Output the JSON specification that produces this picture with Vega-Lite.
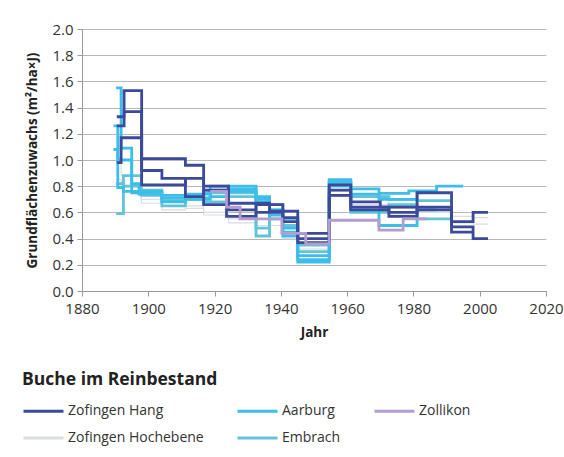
{
  "$schema": "https://vega.github.io/schema/vega-lite/v6.json",
  "width": 464,
  "height": 262,
  "autosize": {"type": "none"},
  "padding": {"left": 82, "top": 29, "right": 18, "bottom": 166},
  "background": "white",
  "config": {
    "font": "Open Sans",
    "view": {"stroke": null},
    "axis": {
      "labelFont": "Open Sans", "labelFontSize": 15, "labelColor": "#333333",
      "titleFont": "Open Sans", "titleFontSize": 13.5, "titleFontWeight": "bold", "titleColor": "#222222",
      "domainColor": "#9a9a9a", "tickColor": "#9a9a9a", "tickSize": 5, "gridColor": "#b8b8b8", "gridWidth": 1
    },
    "legend": {
      "labelFont": "Open Sans", "labelFontSize": 14, "labelColor": "#333333",
      "titleFont": "Open Sans", "titleFontSize": 17.5, "titleFontWeight": "bold", "titleColor": "#222222"
    }
  },
  "data": {"values": [
    {"s":"Zofingen Hochebene","p":"HO1","x":1890.5,"y":1.02},{"s":"Zofingen Hochebene","p":"HO1","x":1891.8,"y":0.88},{"s":"Zofingen Hochebene","p":"HO1","x":1897.9,"y":0.70},{"s":"Zofingen Hochebene","p":"HO1","x":1904.1,"y":0.68},{"s":"Zofingen Hochebene","p":"HO1","x":1911.2,"y":0.65},{"s":"Zofingen Hochebene","p":"HO1","x":1916.7,"y":0.60},{"s":"Zofingen Hochebene","p":"HO1","x":1924.2,"y":0.52},{"s":"Zofingen Hochebene","p":"HO1","x":1932.5,"y":0.55},{"s":"Zofingen Hochebene","p":"HO1","x":1940.6,"y":0.44},{"s":"Zofingen Hochebene","p":"HO1","x":1945.1,"y":0.27},{"s":"Zofingen Hochebene","p":"HO1","x":1954.6,"y":0.72},{"s":"Zofingen Hochebene","p":"HO1","x":1961.1,"y":0.73},{"s":"Zofingen Hochebene","p":"HO1","x":1972.6,"y":0.63},{"s":"Zofingen Hochebene","p":"HO1","x":1981.1,"y":0.60},{"s":"Zofingen Hochebene","p":"HO1","x":1991.5,"y":0.57},{"s":"Zofingen Hochebene","p":"HO1","x":1998,"y":0.56},{"s":"Zofingen Hochebene","p":"HO1","x":2002.5,"y":0.56},
    {"s":"Zofingen Hochebene","p":"HO2","x":1890.5,"y":0.85},{"s":"Zofingen Hochebene","p":"HO2","x":1891.8,"y":0.80},{"s":"Zofingen Hochebene","p":"HO2","x":1897.9,"y":0.67},{"s":"Zofingen Hochebene","p":"HO2","x":1904.1,"y":0.62},{"s":"Zofingen Hochebene","p":"HO2","x":1911.2,"y":0.63},{"s":"Zofingen Hochebene","p":"HO2","x":1916.7,"y":0.58},{"s":"Zofingen Hochebene","p":"HO2","x":1924.2,"y":0.55},{"s":"Zofingen Hochebene","p":"HO2","x":1932.5,"y":0.50},{"s":"Zofingen Hochebene","p":"HO2","x":1940.6,"y":0.40},{"s":"Zofingen Hochebene","p":"HO2","x":1945.1,"y":0.32},{"s":"Zofingen Hochebene","p":"HO2","x":1954.6,"y":0.76},{"s":"Zofingen Hochebene","p":"HO2","x":1961.1,"y":0.66},{"s":"Zofingen Hochebene","p":"HO2","x":1972.6,"y":0.58},{"s":"Zofingen Hochebene","p":"HO2","x":1981.1,"y":0.64},{"s":"Zofingen Hochebene","p":"HO2","x":1991.5,"y":0.52},{"s":"Zofingen Hochebene","p":"HO2","x":1998,"y":0.51},{"s":"Zofingen Hochebene","p":"HO2","x":2002.5,"y":0.51},
    {"s":"Embrach","p":"EM1","x":1890.3,"y":0.59},{"s":"Embrach","p":"EM1","x":1892.5,"y":0.88},{"s":"Embrach","p":"EM1","x":1897.9,"y":0.77},{"s":"Embrach","p":"EM1","x":1904.1,"y":0.65},{"s":"Embrach","p":"EM1","x":1911.2,"y":0.70},{"s":"Embrach","p":"EM1","x":1916.7,"y":0.75},{"s":"Embrach","p":"EM1","x":1924.2,"y":0.72},{"s":"Embrach","p":"EM1","x":1932.5,"y":0.42},{"s":"Embrach","p":"EM1","x":1936.6,"y":0.66},{"s":"Embrach","p":"EM1","x":1940.6,"y":0.50},{"s":"Embrach","p":"EM1","x":1945.1,"y":0.30},{"s":"Embrach","p":"EM1","x":1954.6,"y":0.84},{"s":"Embrach","p":"EM1","x":1961.1,"y":0.72},{"s":"Embrach","p":"EM1","x":1972.6,"y":0.70},{"s":"Embrach","p":"EM1","x":1981.1,"y":0.69},{"s":"Embrach","p":"EM1","x":1991.5,"y":0.69},
    {"s":"Embrach","p":"EM2","x":1890.3,"y":0.82},{"s":"Embrach","p":"EM2","x":1892.5,"y":0.80},{"s":"Embrach","p":"EM2","x":1897.9,"y":0.73},{"s":"Embrach","p":"EM2","x":1904.1,"y":0.69},{"s":"Embrach","p":"EM2","x":1911.2,"y":0.73},{"s":"Embrach","p":"EM2","x":1916.7,"y":0.68},{"s":"Embrach","p":"EM2","x":1924.2,"y":0.75},{"s":"Embrach","p":"EM2","x":1932.5,"y":0.48},{"s":"Embrach","p":"EM2","x":1936.6,"y":0.62},{"s":"Embrach","p":"EM2","x":1940.6,"y":0.55},{"s":"Embrach","p":"EM2","x":1945.1,"y":0.35},{"s":"Embrach","p":"EM2","x":1954.6,"y":0.82},{"s":"Embrach","p":"EM2","x":1961.1,"y":0.60},{"s":"Embrach","p":"EM2","x":1972.6,"y":0.66},{"s":"Embrach","p":"EM2","x":1981.1,"y":0.55},{"s":"Embrach","p":"EM2","x":1991.5,"y":0.55},
    {"s":"Aarburg","p":"AA1","x":1890.3,"y":1.55},{"s":"Aarburg","p":"AA1","x":1891.8,"y":1.09},{"s":"Aarburg","p":"AA1","x":1895,"y":0.82},{"s":"Aarburg","p":"AA1","x":1897.2,"y":0.76},{"s":"Aarburg","p":"AA1","x":1904.1,"y":0.71},{"s":"Aarburg","p":"AA1","x":1911.2,"y":0.74},{"s":"Aarburg","p":"AA1","x":1918.7,"y":0.72},{"s":"Aarburg","p":"AA1","x":1924.2,"y":0.78},{"s":"Aarburg","p":"AA1","x":1932.5,"y":0.70},{"s":"Aarburg","p":"AA1","x":1936.6,"y":0.58},{"s":"Aarburg","p":"AA1","x":1940.6,"y":0.48},{"s":"Aarburg","p":"AA1","x":1945.1,"y":0.27},{"s":"Aarburg","p":"AA1","x":1954.6,"y":0.85},{"s":"Aarburg","p":"AA1","x":1961.1,"y":0.78},{"s":"Aarburg","p":"AA1","x":1969.6,"y":0.745},{"s":"Aarburg","p":"AA1","x":1978.6,"y":0.765},{"s":"Aarburg","p":"AA1","x":1987,"y":0.80},{"s":"Aarburg","p":"AA1","x":1995,"y":0.80},
    {"s":"Aarburg","p":"AA2","x":1889.5,"y":1.26},{"s":"Aarburg","p":"AA2","x":1890.8,"y":1.00},{"s":"Aarburg","p":"AA2","x":1895,"y":0.75},{"s":"Aarburg","p":"AA2","x":1904.1,"y":0.68},{"s":"Aarburg","p":"AA2","x":1911.2,"y":0.70},{"s":"Aarburg","p":"AA2","x":1918.7,"y":0.77},{"s":"Aarburg","p":"AA2","x":1924.2,"y":0.80},{"s":"Aarburg","p":"AA2","x":1932.5,"y":0.72},{"s":"Aarburg","p":"AA2","x":1936.6,"y":0.62},{"s":"Aarburg","p":"AA2","x":1940.6,"y":0.45},{"s":"Aarburg","p":"AA2","x":1945.1,"y":0.22},{"s":"Aarburg","p":"AA2","x":1954.6,"y":0.80},{"s":"Aarburg","p":"AA2","x":1961.1,"y":0.74},{"s":"Aarburg","p":"AA2","x":1969.6,"y":0.70},{"s":"Aarburg","p":"AA2","x":1981.1,"y":0.76},{"s":"Aarburg","p":"AA2","x":1987,"y":0.76},
    {"s":"Aarburg","p":"AA3","x":1889.5,"y":1.08},{"s":"Aarburg","p":"AA3","x":1890.8,"y":0.79},{"s":"Aarburg","p":"AA3","x":1892.5,"y":0.76},{"s":"Aarburg","p":"AA3","x":1897.2,"y":0.74},{"s":"Aarburg","p":"AA3","x":1904.1,"y":0.73},{"s":"Aarburg","p":"AA3","x":1911.2,"y":0.71},{"s":"Aarburg","p":"AA3","x":1918.7,"y":0.80},{"s":"Aarburg","p":"AA3","x":1924.2,"y":0.76},{"s":"Aarburg","p":"AA3","x":1932.5,"y":0.68},{"s":"Aarburg","p":"AA3","x":1936.6,"y":0.55},{"s":"Aarburg","p":"AA3","x":1940.6,"y":0.42},{"s":"Aarburg","p":"AA3","x":1945.1,"y":0.24},{"s":"Aarburg","p":"AA3","x":1954.6,"y":0.83},{"s":"Aarburg","p":"AA3","x":1961.1,"y":0.62},{"s":"Aarburg","p":"AA3","x":1969.6,"y":0.50},{"s":"Aarburg","p":"AA3","x":1981.1,"y":0.62},{"s":"Aarburg","p":"AA3","x":1987,"y":0.62},
    {"s":"Zofingen Hang","p":"ZH1","x":1890.5,"y":1.26},{"s":"Zofingen Hang","p":"ZH1","x":1892.7,"y":1.53},{"s":"Zofingen Hang","p":"ZH1","x":1898,"y":1.01},{"s":"Zofingen Hang","p":"ZH1","x":1911.2,"y":0.96},{"s":"Zofingen Hang","p":"ZH1","x":1916.7,"y":0.80},{"s":"Zofingen Hang","p":"ZH1","x":1924.2,"y":0.67},{"s":"Zofingen Hang","p":"ZH1","x":1936.6,"y":0.61},{"s":"Zofingen Hang","p":"ZH1","x":1945.1,"y":0.44},{"s":"Zofingen Hang","p":"ZH1","x":1954.6,"y":0.81},{"s":"Zofingen Hang","p":"ZH1","x":1961.1,"y":0.68},{"s":"Zofingen Hang","p":"ZH1","x":1970,"y":0.64},{"s":"Zofingen Hang","p":"ZH1","x":1981.1,"y":0.75},{"s":"Zofingen Hang","p":"ZH1","x":1991.5,"y":0.53},{"s":"Zofingen Hang","p":"ZH1","x":1998,"y":0.60},{"s":"Zofingen Hang","p":"ZH1","x":2002.5,"y":0.60},
    {"s":"Zofingen Hang","p":"ZH2","x":1890.5,"y":1.33},{"s":"Zofingen Hang","p":"ZH2","x":1892.7,"y":1.37},{"s":"Zofingen Hang","p":"ZH2","x":1898,"y":0.92},{"s":"Zofingen Hang","p":"ZH2","x":1904.1,"y":0.86},{"s":"Zofingen Hang","p":"ZH2","x":1911.2,"y":0.72},{"s":"Zofingen Hang","p":"ZH2","x":1916.7,"y":0.77},{"s":"Zofingen Hang","p":"ZH2","x":1924.2,"y":0.62},{"s":"Zofingen Hang","p":"ZH2","x":1932.5,"y":0.66},{"s":"Zofingen Hang","p":"ZH2","x":1940.6,"y":0.56},{"s":"Zofingen Hang","p":"ZH2","x":1945.1,"y":0.40},{"s":"Zofingen Hang","p":"ZH2","x":1954.6,"y":0.77},{"s":"Zofingen Hang","p":"ZH2","x":1961.1,"y":0.64},{"s":"Zofingen Hang","p":"ZH2","x":1972.6,"y":0.60},{"s":"Zofingen Hang","p":"ZH2","x":1981.1,"y":0.62},{"s":"Zofingen Hang","p":"ZH2","x":1991.5,"y":0.49},{"s":"Zofingen Hang","p":"ZH2","x":1998,"y":0.40},{"s":"Zofingen Hang","p":"ZH2","x":2002.5,"y":0.40},
    {"s":"Zofingen Hang","p":"ZH3","x":1890.5,"y":0.98},{"s":"Zofingen Hang","p":"ZH3","x":1891.8,"y":1.17},{"s":"Zofingen Hang","p":"ZH3","x":1898,"y":0.81},{"s":"Zofingen Hang","p":"ZH3","x":1911.2,"y":0.86},{"s":"Zofingen Hang","p":"ZH3","x":1916.7,"y":0.66},{"s":"Zofingen Hang","p":"ZH3","x":1923.6,"y":0.57},{"s":"Zofingen Hang","p":"ZH3","x":1932.5,"y":0.60},{"s":"Zofingen Hang","p":"ZH3","x":1940.6,"y":0.53},{"s":"Zofingen Hang","p":"ZH3","x":1945.1,"y":0.37},{"s":"Zofingen Hang","p":"ZH3","x":1954.6,"y":0.73},{"s":"Zofingen Hang","p":"ZH3","x":1961.1,"y":0.62},{"s":"Zofingen Hang","p":"ZH3","x":1972.6,"y":0.57},{"s":"Zofingen Hang","p":"ZH3","x":1981.1,"y":0.64},{"s":"Zofingen Hang","p":"ZH3","x":1991.5,"y":0.45},{"s":"Zofingen Hang","p":"ZH3","x":1998,"y":0.45},
    {"s":"Zollikon","p":"ZO1","x":1918.7,"y":0.76},{"s":"Zollikon","p":"ZO1","x":1923.6,"y":0.64},{"s":"Zollikon","p":"ZO1","x":1927.7,"y":0.55},{"s":"Zollikon","p":"ZO1","x":1940.3,"y":0.44},{"s":"Zollikon","p":"ZO1","x":1947.5,"y":0.36},{"s":"Zollikon","p":"ZO1","x":1954.6,"y":0.54},{"s":"Zollikon","p":"ZO1","x":1969.6,"y":0.465},{"s":"Zollikon","p":"ZO1","x":1976.9,"y":0.55},{"s":"Zollikon","p":"ZO1","x":1984.1,"y":0.55}
  ]},
  "encoding": {
    "x": {"field": "x", "type": "quantitative",
      "scale": {"domain": [1880, 2020], "nice": false, "zero": false},
      "axis": {"title": "Jahr", "values": [1880,1900,1920,1940,1960,1980,2000,2020], "format": "d", "grid": false, "labelPadding": 5, "titlePadding": 9, "labelFlush": false}},
    "y": {"field": "y", "type": "quantitative",
      "scale": {"domain": [0, 2], "nice": false},
      "axis": {"title": "Grundflächenzuwachs (m²/ha×J)", "values": [0,0.2,0.4,0.6,0.8,1.0,1.2,1.4,1.6,1.8,2.0], "format": ".1f", "grid": true, "labelPadding": 4, "titlePadding": 12}},
    "color": {"field": "s", "type": "nominal",
      "scale": {"domain": ["Zofingen Hang", "Aarburg", "Zollikon", "Zofingen Hochebene", "Embrach"],
                "range": ["#3b4a9b", "#3dbde9", "#b39ccf", "#d8dce3", "#62c3d9"]},
      "legend": {"title": "Buche im Reinbestand", "titleLimit": 400, "orient": "none", "legendX": -60, "legendY": 342,
        "direction": "horizontal", "columns": 3, "columnPadding": 27, "rowPadding": 8,
        "symbolType": "M-2,0H2", "symbolSize": 400, "symbolStrokeWidth": 3, "symbolOffset": 10,
        "labelOffset": 13, "titlePadding": 11, "labelLimit": 300}},
    "detail": {"field": "p"}
  },
  "layer": [
    {"transform": [{"filter": "datum.s === 'Zofingen Hochebene'"}], "mark": {"type": "line", "interpolate": "step-after", "strokeWidth": 1.2, "strokeJoin": "miter"}},
    {"transform": [{"filter": "datum.s === 'Embrach'"}], "mark": {"type": "line", "interpolate": "step-after", "strokeWidth": 2.8, "strokeJoin": "miter"}},
    {"transform": [{"filter": "datum.s === 'Aarburg'"}], "mark": {"type": "line", "interpolate": "step-after", "strokeWidth": 2.8, "strokeJoin": "miter"}},
    {"transform": [{"filter": "datum.s === 'Zofingen Hang'"}], "mark": {"type": "line", "interpolate": "step-after", "strokeWidth": 2.8, "strokeJoin": "miter"}},
    {"transform": [{"filter": "datum.s === 'Zollikon'"}], "mark": {"type": "line", "interpolate": "step-after", "strokeWidth": 2.8, "strokeJoin": "miter"}}
  ]
}
